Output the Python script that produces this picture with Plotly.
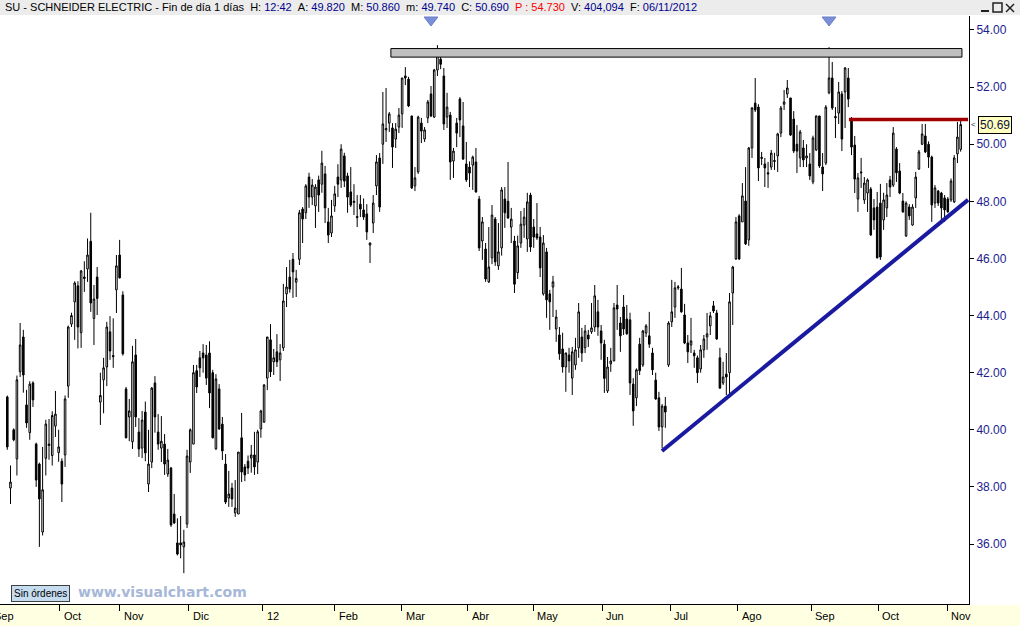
import plotly.graph_objects as go

# ---------------- data (daily OHLC, SU - Schneider Electric) ----------------
opens = [41.15, 37.96, 40.0, 38.98, 42.03, 43.25, 40.87, 39.9, 41.64, 39.5,
         38.8, 36.42, 39.0, 39.45, 39.1, 40.13, 39.2, 38.9, 39.12, 41.53,
         43.7, 44.48, 45.04, 43.4, 45.35, 45.63, 46.6, 43.9, 45.35, 40.97,
         41.75, 42.2, 43.43, 42.6, 44.9, 46.12, 44.72, 41.43, 40.45, 39.58,
         42.62, 39.92, 39.36, 40.62, 38.1, 38.87, 41.64, 39.92, 39.36, 39.5,
         38.45, 38.66, 37.05, 36.04, 36.04, 35.9, 36.7, 38.87, 39.5, 42.07,
         42.52, 42.69, 42.62, 42.69, 42.0, 39.33, 41.43, 40.2, 38.8, 37.61,
         37.96, 37.09, 37.05, 39.72, 38.7, 38.9, 39.01, 39.12, 38.87, 40.03,
         40.27, 41.81, 43.15, 42.38, 42.73, 42.45, 42.87, 44.76, 45.35, 45.97,
         45.17, 45.97, 47.73, 47.6, 48.85, 48.15, 47.84, 48.75, 48.6, 48.96,
         47.28, 46.89, 47.84, 48.85, 48.75, 49.59, 48.89, 48.33, 47.96, 47.47,
         47.9, 47.7, 47.56, 46.47, 47.24, 48.54, 49.52, 50.0, 50.5, 50.74,
         50.57, 50.18, 50.6, 51.06, 52.39, 52.28, 50.99, 48.54, 49.03, 50.74,
         50.18, 50.92, 51.76, 50.95, 52.6, 52.98, 52.39, 50.95, 51.02, 49.41,
         50.74, 51.58, 50.64, 49.31, 49.2, 49.27, 49.38, 48.08, 46.61, 46.33,
         45.18, 46.02, 47.38, 45.74, 46.37, 48.08, 48.0, 47.1, 46.61, 45.5,
         46.54, 47.17, 46.68, 48.22, 47.1, 46.86, 46.75, 44.76, 46.23, 44.76,
         45.0, 43.53, 43.32, 42.83, 42.2, 42.62, 41.81, 42.27, 42.87, 43.25,
         42.87, 43.32, 43.43, 43.6, 44.13, 43.46, 43.0, 41.36, 42.31, 42.41,
         44.37, 43.74, 44.3, 43.88, 43.85, 41.6, 41.12, 43.0, 42.27, 43.39,
         43.29, 42.69, 41.74, 41.12, 40.1, 40.83, 42.27, 43.78, 44.3, 44.97,
         44.93, 44.02, 43.04, 42.97, 42.69, 42.52, 42.13, 42.8, 43.25, 43.64,
         44.34, 44.09, 42.52, 41.64, 41.95, 42.0, 44.79, 45.98, 47.49, 47.28,
         48.01, 46.65, 49.87, 51.44, 51.3, 49.5, 49.31, 49.0, 49.2, 49.43,
         49.59, 50.39, 51.4, 51.76, 51.62, 50.88, 50.0, 49.52, 49.87, 49.52,
         49.31, 48.68, 49.8, 50.99, 49.2, 49.34, 51.8, 52.32, 50.97, 51.09,
         51.76, 51.83, 52.32, 50.88, 49.97, 48.08, 49.03, 48.05, 48.29, 48.43,
         47.77, 47.8, 47.94, 47.35, 47.77, 48.75, 48.57, 49.83, 49.06, 48.01,
         46.79, 47.8, 47.17, 48.12, 49.13, 50.0, 50.29, 50.0, 49.55, 47.94,
         48.36, 48.29, 48.12, 48.08, 48.05, 47.98, 49.66, 49.82]

highs = [41.2, 38.75, 40.05, 41.9, 43.74, 43.5, 41.4, 41.7, 41.7, 39.55,
         38.85, 39.4, 40.35, 40.38, 40.65, 41.36, 40.0, 39.0, 41.2, 43.65,
         44.1, 45.2, 45.2, 45.6, 45.9, 46.7, 47.6, 45.07, 45.7, 42.0,
         42.52, 43.78, 43.98, 43.9, 46.12, 46.65, 44.85, 41.5, 41.08, 42.94,
         43.18, 40.41, 40.66, 40.99, 40.0, 41.5, 41.88, 40.55, 40.48, 39.85,
         39.33, 38.7, 37.75, 36.9, 36.98, 36.5, 39.3, 40.05, 42.27, 42.27,
         42.76, 43.0, 42.97, 43.1, 42.1, 41.95, 41.6, 40.45, 39.15, 38.56,
         38.14, 38.24, 39.22, 40.59, 38.8, 39.1, 39.47, 39.93, 40.0, 40.7,
         41.6, 43.25, 43.7, 42.83, 43.35, 43.0, 45.11, 45.7, 45.95, 46.19,
         45.6, 47.7, 47.8, 48.6, 49.0, 48.78, 48.6, 48.9, 49.77, 49.24,
         47.77, 48.05, 48.54, 49.3, 50.0, 49.7, 49.0, 49.2, 48.6, 48.22,
         48.22, 48.1, 47.9, 46.56, 48.22, 49.62, 49.69, 51.83, 51.97, 51.13,
         50.74, 50.74, 51.27, 52.32, 52.7, 52.36, 50.99, 49.2, 51.0, 50.92,
         50.6, 51.55, 52.04, 52.64, 53.47, 53.23, 52.67, 51.8, 51.13, 49.87,
         50.92, 51.65, 51.48, 50.08, 49.4, 49.6, 49.87, 48.19, 47.45, 46.54,
         47.1, 47.87, 47.45, 47.24, 48.5, 48.5, 49.38, 47.77, 46.79, 46.8,
         47.66, 47.77, 48.3, 48.3, 47.38, 47.94, 47.1, 46.82, 46.37, 44.9,
         45.39, 44.2, 43.6, 43.4, 42.7, 42.87, 42.9, 43.22, 44.44, 43.57,
         43.67, 43.5, 44.44, 45.07, 44.55, 43.67, 43.15, 42.55, 42.87, 44.44,
         45.07, 43.95, 44.72, 44.37, 44.1, 41.81, 42.15, 43.22, 43.5, 43.7,
         44.13, 42.87, 42.0, 41.33, 40.9, 41.15, 43.8, 45.25, 45.18, 45.07,
         45.67, 44.41, 43.32, 43.92, 42.8, 42.6, 42.97, 43.32, 44.09, 44.13,
         44.51, 44.2, 42.87, 42.38, 42.69, 44.79, 45.74, 47.45, 47.55, 48.64,
         49.2, 49.9, 51.3, 52.32, 51.4, 49.73, 49.52, 49.38, 49.8, 49.7,
         50.4, 51.34, 51.9, 52.25, 51.62, 51.16, 50.67, 50.5, 50.15, 50.0,
         49.69, 50.3, 51.0, 50.99, 49.69, 51.37, 53.4, 52.88, 51.3, 52.18,
         51.86, 52.7, 52.67, 50.95, 50.29, 48.99, 49.52, 48.85, 48.8, 48.5,
         48.08, 48.33, 48.61, 48.3, 48.64, 48.89, 50.6, 49.9, 49.34, 48.29,
         48.0, 47.9, 47.9, 49.03, 49.8, 50.71, 50.71, 50.1, 49.6, 48.57,
         48.4, 48.33, 48.22, 48.15, 48.8, 49.62, 50.78, 50.86]

lows = [39.3, 37.4, 39.6, 38.4, 41.85, 41.3, 40.07, 39.65, 40.8, 38.0,
        35.9, 36.3, 38.4, 38.95, 38.75, 39.75, 38.88, 37.47, 38.7, 41.12,
        43.6, 43.15, 42.85, 42.87, 44.83, 45.18, 44.13, 42.97, 44.02, 40.17,
        40.58, 41.53, 42.45, 42.17, 44.09, 45.3, 42.6, 39.7, 39.6, 39.33,
        40.1, 39.05, 39.01, 38.9, 37.82, 38.66, 39.9, 39.3, 38.87, 38.42,
        38.35, 36.6, 36.7, 35.6, 35.5, 34.98, 36.56, 38.49, 39.5, 41.29,
        41.85, 42.0, 41.57, 40.76, 39.7, 39.3, 40.0, 38.94, 37.4, 37.3,
        37.3, 36.95, 37.05, 38.17, 38.2, 38.45, 38.5, 38.42, 38.45, 39.72,
        40.24, 41.39, 41.85, 41.92, 42.2, 41.71, 42.76, 44.3, 44.8, 44.62,
        44.65, 45.77, 46.54, 47.38, 47.77, 47.87, 47.07, 47.63, 48.3, 47.24,
        46.54, 46.75, 47.63, 48.15, 48.47, 48.5, 47.6, 47.8, 47.52, 47.1,
        47.45, 47.35, 46.65, 45.84, 46.89, 48.22, 47.63, 49.31, 50.08, 50.43,
        49.17, 49.87, 50.39, 50.57, 52.07, 51.3, 48.43, 48.36, 48.96, 50.04,
        50.08, 50.74, 50.95, 50.92, 52.39, 52.63, 50.5, 50.57, 48.75, 48.82,
        49.9, 50.25, 49.45, 48.68, 48.5, 48.4, 48.3, 46.26, 45.95, 45.18,
        45.14, 45.8, 45.74, 45.6, 46.1, 47.07, 47.38, 46.54, 44.79, 45.28,
        46.37, 46.72, 46.23, 46.23, 46.37, 46.65, 45.35, 44.7, 43.92, 43.5,
        43.95, 43.08, 42.45, 42.0, 41.33, 42.0, 41.22, 42.1, 42.52, 42.38,
        42.69, 42.9, 43.36, 43.43, 43.29, 42.45, 41.29, 41.29, 42.03, 42.41,
        43.5, 42.73, 43.32, 43.33, 41.22, 40.14, 40.83, 41.92, 42.2, 43.25,
        42.87, 41.92, 41.05, 39.96, 39.36, 40.07, 42.2, 43.6, 43.92, 44.9,
        44.1, 43.0, 42.34, 42.69, 42.17, 41.64, 42.0, 42.52, 42.8, 43.32,
        44.09, 43.15, 41.43, 41.57, 41.22, 41.12, 43.67, 45.95, 45.95, 47.28,
        46.47, 46.44, 49.52, 51.13, 48.71, 49.27, 48.5, 48.47, 49.1, 49.1,
        49.03, 50.25, 51.2, 51.62, 50.29, 49.69, 48.99, 49.2, 49.2, 49.2,
        48.75, 48.6, 49.76, 49.17, 48.36, 49.27, 51.75, 51.2, 50.22, 50.71,
        49.76, 50.57, 51.3, 49.62, 48.29, 47.63, 48.47, 47.91, 47.63, 46.8,
        47.0, 46.0, 45.95, 47.0, 47.45, 48.15, 48.5, 48.68, 48.25, 47.6,
        46.75, 47.35, 47.15, 47.77, 49.1, 49.97, 49.69, 49.17, 47.28, 47.77,
        47.84, 47.28, 47.28, 47.6, 47.98, 47.94, 49.34, 49.74]

closes = [39.4, 38.17, 39.65, 41.75, 42.97, 41.92, 40.24, 41.6, 41.05, 38.24,
          37.58, 37.9, 40.2, 39.5, 40.5, 40.55, 39.4, 38.1, 41.08, 43.6,
          44.0, 45.14, 43.6, 45.56, 45.3, 46.12, 44.44, 44.58, 44.6, 41.2,
          42.17, 43.6, 42.76, 42.56, 45.74, 45.32, 42.66, 39.72, 40.66, 42.38,
          40.45, 39.33, 40.34, 39.19, 38.8, 41.46, 40.45, 39.5, 39.6, 38.8,
          38.94, 36.67, 36.74, 35.65, 35.97, 36.07, 39.08, 40.0, 42.0, 41.5,
          42.17, 42.52, 41.81, 41.29, 39.72, 41.78, 40.03, 39.26, 37.47, 37.75,
          37.58, 37.26, 39.22, 38.52, 38.42, 38.66, 39.12, 38.7, 39.93, 40.66,
          41.57, 43.25, 42.03, 42.52, 42.38, 42.69, 44.51, 45.0, 44.93, 45.53,
          45.3, 47.6, 47.38, 48.54, 48.15, 48.57, 48.5, 48.22, 49.34, 47.77,
          46.82, 47.49, 48.26, 48.6, 49.83, 48.71, 48.15, 47.87, 48.0, 47.43,
          47.73, 47.45, 46.93, 46.54, 47.94, 49.38, 47.8, 50.71, 50.55, 51.06,
          49.9, 50.53, 51.02, 52.32, 52.32, 51.34, 48.47, 48.82, 50.95, 50.46,
          50.5, 51.48, 50.99, 52.6, 53.16, 52.8, 50.71, 51.3, 49.38, 49.76,
          50.39, 50.85, 49.48, 48.75, 48.99, 49.55, 48.33, 46.37, 47.28, 45.28,
          45.7, 47.52, 45.88, 46.23, 48.4, 47.6, 47.42, 47.38, 45.1, 46.44,
          47.2, 47.45, 47.98, 46.4, 46.75, 46.72, 45.67, 46.54, 44.55, 44.48,
          45.18, 43.95, 42.66, 42.2, 42.69, 42.41, 42.73, 42.8, 44.13, 42.69,
          43.46, 43.18, 43.57, 44.69, 43.6, 43.04, 41.8, 42.2, 42.41, 44.27,
          44.23, 43.29, 43.53, 43.36, 41.64, 40.66, 42.1, 42.07, 43.46, 43.64,
          43.0, 42.1, 41.08, 40.1, 40.83, 40.62, 43.74, 44.13, 44.97, 45.0,
          44.13, 43.04, 42.73, 43.11, 42.59, 42.0, 42.8, 43.18, 43.36, 43.99,
          44.16, 43.18, 41.46, 41.85, 41.85, 44.48, 45.7, 47.28, 45.98, 48.19,
          46.51, 49.87, 51.27, 51.2, 49.17, 49.54, 49.17, 48.96, 49.69, 49.4,
          50.36, 51.27, 51.48, 51.97, 50.32, 49.76, 49.76, 50.43, 49.45, 49.59,
          48.89, 50.22, 50.99, 49.24, 48.96, 51.3, 52.32, 51.27, 50.93, 51.83,
          50.18, 52.67, 51.58, 49.9, 48.78, 48.82, 49.0, 48.64, 48.75, 46.82,
          47.35, 46.02, 46.05, 48.05, 48.22, 48.5, 50.39, 49.0, 48.29, 47.63,
          47.94, 47.49, 47.8, 48.85, 49.73, 50.36, 49.73, 49.55, 47.87, 48.47,
          47.94, 47.77, 47.7, 47.63, 48.71, 49.52, 50.25, 50.69]

month_labels = ["Sep", "Oct", "Nov", "Dic", "12", "Feb", "Mar", "Abr",
                "May", "Jun", "Jul", "Ago", "Sep", "Oct", "Nov"]
month_ticks = [-4.4, 17.4, 36.1, 57.6, 80.6, 103.0, 123.9, 144.5,
               164.8, 186.3, 207.5, 228.6, 251.4, 272.3, 293.8]
price_ticks = [36, 38, 40, 42, 44, 46, 48, 50, 52, 54]

# drawing objects (in session index / price units)
resistance_band = [53.05, 53.35]
resistance_span = [120.5, 298.4]
trend_x = [204.96, 300.3]
trend_y = [39.26, 48.05]
red_level = 50.87
red_span = [263.2, 300.3]
signal_idx = [133, 257]
signal_level = 54.35
signal_stem = 54.62
last_price = 50.69

title_parts = [
    ("SU - SCHNEIDER ELECTRIC - Fin de día 1 días", None),
    ("H:", "12:42"), ("A:", "49.820"), ("M:", "50.860"), ("m:", "49.740"),
    ("C:", "50.690"), ("P :", "54.730"), ("V:", "404,094"), ("F:", "06/11/2012"),
]

assert len(opens) == len(highs) == len(lows) == len(closes)

# ---------------- layout geometry ----------------
W, H = 1020, 626
ML, MR, MT, MB = 0, 51, 16, 22
PW, PH = W - ML - MR, H - MT - MB
x_range = [-1.27, 300.6]
y_range = [33.90, 54.49]


def px_x(px):
    return (px - ML) / PW


def px_y(py):
    return (H - MB - py) / PH


idx = list(range(1, len(opens) + 1))

fig = go.Figure()
fig.add_trace(go.Candlestick(
    x=idx, open=opens, high=highs, low=lows, close=closes,
    increasing=dict(line=dict(color="black", width=1), fillcolor="white"),
    decreasing=dict(line=dict(color="black", width=1), fillcolor="black"),
    whiskerwidth=0, showlegend=False, hoverinfo="skip",
))

# signal arrows at the top (small stem + triangle)
fig.add_trace(go.Scatter(
    x=signal_idx, y=[signal_stem] * len(signal_idx), mode="markers",
    marker=dict(symbol="square", size=5, color="#7b8fd8",
                line=dict(color="#6a7ec8", width=0)),
    cliponaxis=False, showlegend=False, hoverinfo="skip",
))
fig.add_trace(go.Scatter(
    x=signal_idx, y=[signal_level] * len(signal_idx), mode="markers",
    marker=dict(symbol="triangle-down", size=12, color="#7b8fd8",
                line=dict(color="#6a7ec8", width=1)),
    cliponaxis=False, showlegend=False, hoverinfo="skip",
))

shapes = []
# header bar
shapes.append(dict(type="rect", xref="paper", yref="paper",
                   x0=px_x(0), x1=px_x(W), y0=px_y(15), y1=px_y(0),
                   fillcolor="#ececec", line=dict(width=0), layer="below"))
# window buttons (minimise / maximise / close)
shapes.append(dict(type="line", xref="paper", yref="paper",
                   x0=px_x(981), x1=px_x(989), y0=px_y(11), y1=px_y(11),
                   line=dict(color="#202020", width=2)))
shapes.append(dict(type="rect", xref="paper", yref="paper",
                   x0=px_x(993), x1=px_x(1002), y0=px_y(12), y1=px_y(3),
                   fillcolor="rgba(0,0,0,0)", line=dict(color="#202020", width=1.5)))
shapes.append(dict(type="line", xref="paper", yref="paper",
                   x0=px_x(1006), x1=px_x(1014), y0=px_y(12), y1=px_y(4),
                   line=dict(color="#202020", width=1.5)))
shapes.append(dict(type="line", xref="paper", yref="paper",
                   x0=px_x(1006), x1=px_x(1014), y0=px_y(4), y1=px_y(12),
                   line=dict(color="#202020", width=1.5)))
# date strip
shapes.append(dict(type="rect", xref="paper", yref="paper",
                   x0=px_x(0), x1=px_x(W), y0=px_y(H), y1=px_y(H - MB + 1),
                   fillcolor="#ffffe1", line=dict(width=0), layer="below"))
# resistance band
shapes.append(dict(type="rect", xref="x", yref="y",
                   x0=resistance_span[0], x1=resistance_span[1],
                   y0=resistance_band[0], y1=resistance_band[1],
                   fillcolor="#c0c0c0", line=dict(color="black", width=1)))
# rising trend line
shapes.append(dict(type="line", xref="x", yref="y",
                   x0=trend_x[0], x1=trend_x[1], y0=trend_y[0], y1=trend_y[1],
                   line=dict(color="#1a1aa0", width=4)))
# red horizontal level
shapes.append(dict(type="line", xref="x", yref="y",
                   x0=red_span[0], x1=red_span[1], y0=red_level, y1=red_level,
                   line=dict(color="#a00000", width=3.5)))

annotations = []
# header text
val_col = "#00008c"
pieces = []
for lab, val in title_parts:
    if val is None:
        pieces.append(lab)
    elif lab.startswith("P"):
        pieces.append("<span style='color:#ff0000'>%s\u00a0%s</span>" % (lab, val))
    else:
        pieces.append("%s\u00a0<span style='color:%s'>%s</span>" % (lab, val_col, val))
header = "\u00a0\u00a0".join(pieces)
annotations.append(dict(xref="paper", yref="paper", x=px_x(3), y=px_y(7.5),
                        xanchor="left", yanchor="middle", showarrow=False,
                        text=header,
                        font=dict(family="Liberation Sans, Arial", size=11, color="black")))
# month labels
for lab, t in zip(month_labels, month_ticks):
    xp = (t - x_range[0]) / (x_range[1] - x_range[0])
    annotations.append(dict(xref="paper", yref="paper", x=xp, y=px_y(616),
                            xanchor="left", yanchor="middle", xshift=2,
                            showarrow=False, text=lab,
                            font=dict(family="Liberation Sans, Arial", size=11, color="black")))
# last price box
annotations.append(dict(xref="paper", yref="y", x=px_x(994.5), y=last_price,
                        xanchor="center", yanchor="middle", showarrow=False,
                        text="%.2f" % last_price, bgcolor="#ffffc0",
                        bordercolor="black", borderwidth=1, borderpad=1,
                        font=dict(family="Liberation Sans, Arial", size=12, color="#101040")))
annotations.append(dict(xref="paper", yref="y", x=px_x(973), y=last_price,
                        xanchor="center", yanchor="middle", showarrow=False,
                        text="<", font=dict(family="Liberation Sans", size=8, color="#333333")))
# footer
annotations.append(dict(xref="paper", yref="paper", x=px_x(40), y=px_y(593.5),
                        xanchor="center", yanchor="middle", showarrow=False,
                        text="Sin órdenes", bgcolor="#c6dcef", bordercolor="#404040",
                        borderwidth=1, borderpad=2,
                        font=dict(family="Liberation Sans, Arial", size=10, color="black")))
annotations.append(dict(xref="paper", yref="paper", x=px_x(76), y=px_y(592),
                        xanchor="left", yanchor="middle", showarrow=False,
                        text="<b>www.visualchart.com</b>",
                        font=dict(family="DejaVu Sans", size=14, color="#a7b7d7")))

fig.update_layout(
    width=W, height=H,
    margin=dict(l=ML, r=MR, t=MT, b=MB, pad=0),
    paper_bgcolor="white", plot_bgcolor="white",
    showlegend=False, boxgap=0.3,
    shapes=shapes, annotations=annotations,
    xaxis=dict(range=x_range, rangeslider=dict(visible=False),
               showgrid=False, zeroline=False, showline=True,
               linecolor="black", linewidth=1,
               tickmode="array", tickvals=month_ticks, ticks="outside",
               ticklen=6, tickcolor="black", tickwidth=1,
               showticklabels=False, fixedrange=True),
    yaxis=dict(range=y_range, side="right", showgrid=False, zeroline=False,
               showline=True, linecolor="black", linewidth=1,
               tickmode="array", tickvals=price_ticks,
               ticktext=["%.2f" % v for v in price_ticks],
               ticks="outside", ticklen=4, tickcolor="black",
               tickfont=dict(family="Liberation Sans, Arial", size=12, color="#1c1c8c"),
               fixedrange=True),
)

fig.write_html(
    "out.html",
    config={"displayModeBar": False, "staticPlot": True},
    post_script="document.body.style.margin='0px';document.body.style.overflow='hidden';",
)
